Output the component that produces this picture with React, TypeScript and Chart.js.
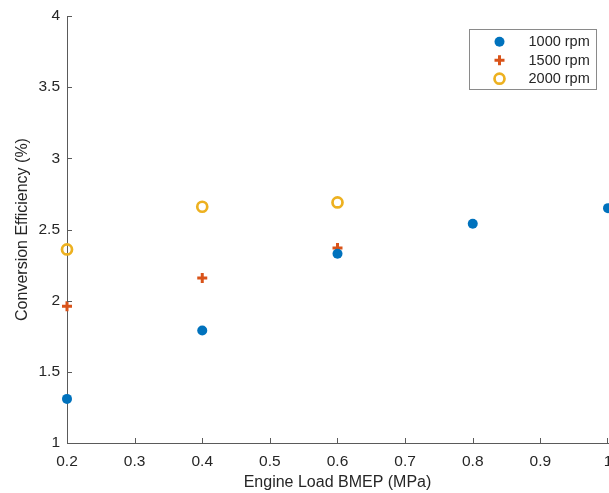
import React, { useEffect, useRef } from "react";
import { Chart, registerables } from "chart.js";

Chart.register(...registerables);

const loads1000 = [0.2, 0.4, 0.6, 0.8, 1.0];
const eff1000 = [1.31, 1.79, 2.33, 2.54, 2.65];
const loads1500 = [0.2, 0.4, 0.6];
const eff1500 = [1.96, 2.16, 2.37];
const loads2000 = [0.2, 0.4, 0.6];
const eff2000 = [2.36, 2.66, 2.69];

const seriesLabels = ["1000 rpm", "1500 rpm", "2000 rpm"];
const xTicks = [0.2, 0.3, 0.4, 0.5, 0.6, 0.7, 0.8, 0.9, 1];
const yTicks = [1, 1.5, 2, 2.5, 3, 3.5, 4];
const xTitle = "Engine Load BMEP (MPa)";
const yTitle = "Conversion Efficiency (%)";

const BLUE = "#0072BD";
const ORANGE = "#D95319";
const YELLOW = "#EDB120";
const AXIS = "#5a5a5a";
const TEXT = "#262626";
const FONT = "'Liberation Sans', Arial, Helvetica, sans-serif";

const toPts = (xs: number[], ys: number[]) => xs.map((x, i) => ({ x, y: ys[i] }));

const innerTicks = {
  id: "innerTicks",
  afterDatasetsDraw(chart: any) {
    const { ctx, chartArea, scales } = chart;
    ctx.save();
    ctx.strokeStyle = AXIS;
    ctx.lineWidth = 1;
    const xs = scales.x;
    const ys = scales.y;
    ctx.beginPath();
    for (const t of xs.ticks) {
      const px = Math.min(Math.round(xs.getPixelForValue(t.value)) + 0.5, chartArea.right - 0.5);
      ctx.moveTo(px, chartArea.bottom);
      ctx.lineTo(px, chartArea.bottom - 5);
    }
    for (const t of ys.ticks) {
      const py = Math.max(Math.round(ys.getPixelForValue(t.value)) + 0.5, chartArea.top + 0.5);
      ctx.moveTo(chartArea.left, py);
      ctx.lineTo(chartArea.left + 5, py);
    }
    ctx.stroke();
    ctx.restore();
  },
};

const boxLegend = {
  id: "boxLegend",
  afterDraw(chart: any) {
    const { ctx, chartArea } = chart;
    const w = 127;
    const h = 60;
    const bx = Math.round(chartArea.right - 12 - w) + 0.5;
    const by = Math.round(chartArea.top + 13) + 0.5;
    ctx.save();
    ctx.fillStyle = "#ffffff";
    ctx.fillRect(bx, by, w, h);
    ctx.strokeStyle = "#8a8a8a";
    ctx.lineWidth = 1;
    ctx.strokeRect(bx, by, w, h);
    const rows = [12.2, 30.8, 49.2];
    chart.data.datasets.forEach((ds: any, i: number) => {
      const cy = by + rows[i];
      const cx = bx + 30;
      if (ds.pointStyle === "cross") {
        ctx.strokeStyle = ds.borderColor;
        ctx.lineWidth = 3;
        ctx.beginPath();
        ctx.moveTo(cx - 5, cy);
        ctx.lineTo(cx + 5, cy);
        ctx.moveTo(cx, cy - 5);
        ctx.lineTo(cx, cy + 5);
        ctx.stroke();
      } else if (ds.hollow) {
        ctx.strokeStyle = ds.borderColor;
        ctx.lineWidth = 2.7;
        ctx.beginPath();
        ctx.arc(cx, cy, 5, 0, Math.PI * 2);
        ctx.stroke();
      } else {
        ctx.fillStyle = ds.backgroundColor;
        ctx.beginPath();
        ctx.arc(cx, cy, 5, 0, Math.PI * 2);
        ctx.fill();
      }
      ctx.fillStyle = TEXT;
      ctx.font = `14.5px ${FONT}`;
      ctx.textBaseline = "middle";
      ctx.textAlign = "left";
      ctx.fillText(ds.label, bx + 59, cy + 0.5);
    });
    ctx.restore();
  },
};

export default function App() {
  const ref = useRef<HTMLCanvasElement>(null);
  useEffect(() => {
    if (!ref.current) return;
    const chart = new Chart(ref.current, {
      type: "scatter",
      data: {
        datasets: [
          {
            label: seriesLabels[0],
            data: toPts(loads1000, eff1000),
            pointStyle: "circle",
            pointRadius: 5,
            pointBorderWidth: 0,
            backgroundColor: BLUE,
            borderColor: BLUE,
          },
          {
            label: seriesLabels[1],
            data: toPts(loads1500, eff1500),
            pointStyle: "cross",
            pointRadius: 5,
            pointBorderWidth: 3,
            backgroundColor: ORANGE,
            borderColor: ORANGE,
          },
          {
            label: seriesLabels[2],
            data: toPts(loads2000, eff2000),
            pointStyle: "circle",
            pointRadius: 5,
            pointBorderWidth: 2.7,
            backgroundColor: "rgba(0,0,0,0)",
            borderColor: YELLOW,
            hollow: true,
          } as any,
        ],
      },
      options: {
        animation: false,
        responsive: false,
        maintainAspectRatio: false,
        clip: false as any,
        layout: { autoPadding: false, padding: { top: 16, right: 1, left: 0, bottom: 0 } },
        plugins: {
          legend: { display: false },
          tooltip: { enabled: false },
        },
        scales: {
          x: {
            type: "linear",
            min: 0.2,
            max: 1,
            afterBuildTicks: (s: any) => {
              s.ticks = xTicks.map((v) => ({ value: v }));
            },
            afterFit: (s: any) => {
              s.height = 50;
              s.paddingLeft = 0;
              s.paddingRight = 0;
            },
            grid: { display: false, drawTicks: false },
            border: { display: true, color: AXIS, width: 1 },
            ticks: {
              color: TEXT,
              font: { family: FONT, size: 15.5 },
              padding: 9,
              maxRotation: 0,
              autoSkip: false,
              callback: (v: any) => String(Math.round(Number(v) * 10) / 10),
            },
            title: {
              display: true,
              text: xTitle,
              color: TEXT,
              font: { family: FONT, size: 16 },
              padding: { top: 0, bottom: 1 },
            },
          },
          y: {
            type: "linear",
            min: 1,
            max: 4,
            afterBuildTicks: (s: any) => {
              s.ticks = yTicks.map((v) => ({ value: v }));
            },
            afterFit: (s: any) => {
              s.width = 67;
              s.paddingTop = 0;
              s.paddingBottom = 0;
            },
            grid: { display: false, drawTicks: false },
            border: { display: true, color: AXIS, width: 1 },
            ticks: {
              color: TEXT,
              font: { family: FONT, size: 15.5 },
              padding: 7,
              autoSkip: false,
              callback: (v: any) => String(v),
            },
            title: {
              display: true,
              text: yTitle,
              color: TEXT,
              font: { family: FONT, size: 16 },
              padding: { top: 13, bottom: 0 },
            },
          },
        },
      },
      plugins: [innerTicks, boxLegend],
    });
    return () => chart.destroy();
  }, []);
  return (
    <div style={{ position: "absolute", left: 0, top: 0, width: 609, height: 493, background: "#fff" }}>
      <canvas ref={ref} width={609} height={493} style={{ display: "block", width: 609, height: 493 }} />
    </div>
  );
}
